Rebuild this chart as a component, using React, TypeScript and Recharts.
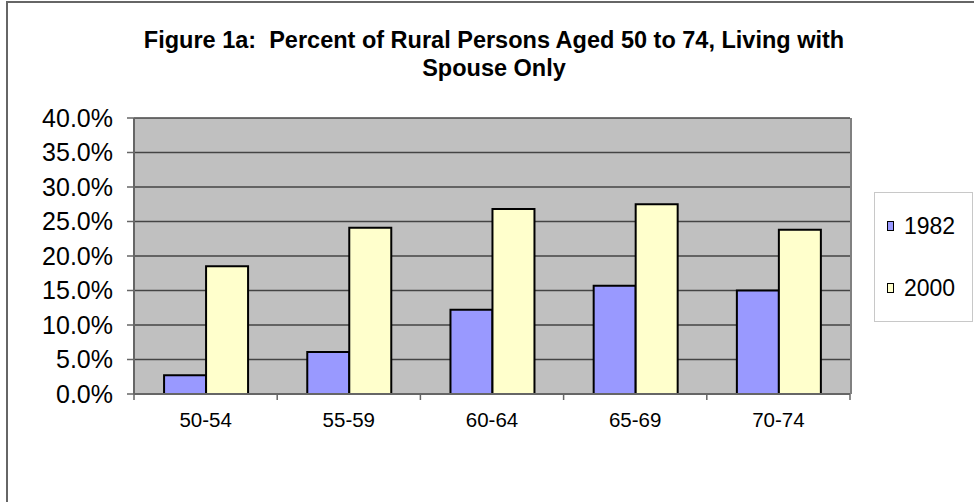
import React from 'react';
import { BarChart, Bar, XAxis, YAxis, CartesianGrid } from 'recharts';

const categories = ['50-54', '55-59', '60-64', '65-69', '70-74'];
const values1982 = [2.7, 6.1, 12.2, 15.7, 15.0];
const values2000 = [18.5, 24.1, 26.8, 27.5, 23.8];
const yTicks = [0, 5, 10, 15, 20, 25, 30, 35, 40];
const seriesNames = ['1982', '2000'];
const seriesColors = ['#9999FF', '#FFFFCC'];
const titleLines = ['Figure 1a:  Percent of Rural Persons Aged 50 to 74, Living with', 'Spouse Only'];

const data = categories.map((c, i) => ({ cat: c, s1982: values1982[i], s2000: values2000[i] }));

const FONT = '"Liberation Sans", Arial, Helvetica, sans-serif';

const XTick = (props: any) => {
  const { x, y, payload } = props;
  const half = payload && payload.offset ? payload.offset : 71.6;
  const isLast = payload && payload.index === categories.length - 1;
  return (
    <g>
      <line x1={x - half} y1={y - 8} x2={x - half} y2={y - 2} stroke="#666" strokeWidth={1.5} />
      {isLast && <line x1={x + half} y1={y - 8} x2={x + half} y2={y - 2} stroke="#666" strokeWidth={1.5} />}
      <text x={x} y={y + 25} textAnchor="middle" fontSize={20.5} fontFamily={FONT} fill="#000">
        {payload.value}
      </text>
    </g>
  );
};

export default function App() {
  return (
    <div style={{ position: 'absolute', left: 0, top: 0, width: 974, height: 502, background: '#fff', overflow: 'hidden', fontFamily: FONT }}>
      <div style={{ position: 'absolute', left: 6, top: 1, width: 980, height: 520, borderLeft: '2px solid #666', borderTop: '2px solid #666' }} />
      <div style={{ position: 'absolute', left: 0, top: 26, width: 988, textAlign: 'center', fontWeight: 'bold', fontSize: 23.5, lineHeight: '28px', whiteSpace: 'pre', color: '#000' }}>
        {titleLines.map((t, i) => (<div key={i}>{t}</div>))}
      </div>
      <div style={{ position: 'absolute', left: 0, top: 0 }}>
        <BarChart width={974} height={502} data={data} margin={{ top: 118, right: 124, bottom: 68, left: 0 }} barCategoryGap="21%" barGap={0}>
          <CartesianGrid
            fill="#C0C0C0"
            stroke="#444"
            strokeWidth={1.3}
            vertical={false}
            fillOpacity={1}
          />
          <XAxis
            dataKey="cat"
            height={40}
            tickLine={false}
            axisLine={{ stroke: '#666', strokeWidth: 2 }}
            tick={<XTick />}
            interval={0}
          />
          <YAxis
            width={134}
            domain={[0, 40]}
            ticks={yTicks}
            tickFormatter={(v: number) => v.toFixed(1) + '%'}
            tickSize={7}
            tickMargin={14}
            tickLine={{ stroke: '#666', strokeWidth: 1.5 }}
            axisLine={{ stroke: '#666', strokeWidth: 2 }}
            tick={{ fontSize: 25, fontFamily: FONT, fill: '#000' }}
            interval={0}
          />
          <Bar dataKey="s1982" name={seriesNames[0]} fill={seriesColors[0]} stroke="#000" strokeWidth={2} isAnimationActive={false} />
          <Bar dataKey="s2000" name={seriesNames[1]} fill={seriesColors[1]} stroke="#000" strokeWidth={2} isAnimationActive={false} />
        </BarChart>
      </div>
      <div style={{ position: 'absolute', left: 850, top: 118, width: 2, height: 276, background: '#808080' }} />
      <div style={{ position: 'absolute', left: 874, top: 192, width: 97, height: 128, border: '1px solid #c8c8c8', background: '#fff' }}>
        {seriesNames.map((n, i) => (
          <div key={n} style={{ position: 'absolute', left: 12, top: 18 + i * 62, height: 30, display: 'flex', alignItems: 'center' }}>
            <div style={{ width: 5, height: 8, background: seriesColors[i], border: '1.5px solid #000', marginRight: 10 }} />
            <span style={{ fontSize: 23, lineHeight: '30px', color: '#000' }}>{n}</span>
          </div>
        ))}
      </div>
    </div>
  );
}
